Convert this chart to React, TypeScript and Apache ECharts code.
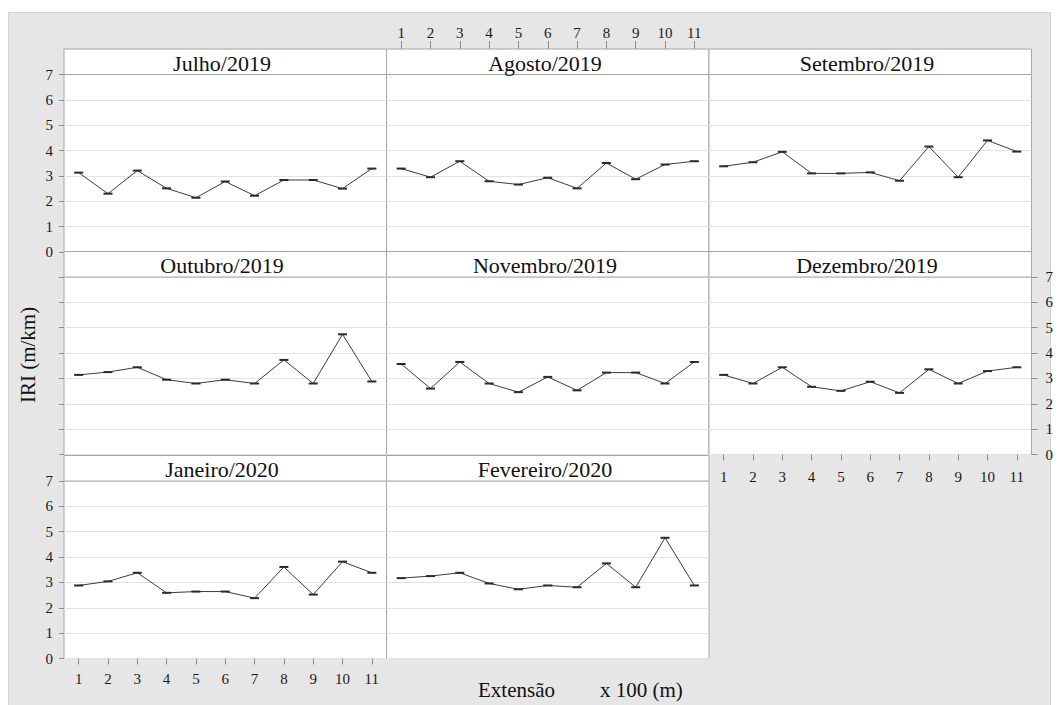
import React, { useEffect, useRef } from "react";
import * as echarts from "echarts";

const categories = ["1", "2", "3", "4", "5", "6", "7", "8", "9", "10", "11"];
const months = [
  "Julho/2019",
  "Agosto/2019",
  "Setembro/2019",
  "Outubro/2019",
  "Novembro/2019",
  "Dezembro/2019",
  "Janeiro/2020",
  "Fevereiro/2020",
];
const julho = [3.13, 2.3, 3.21, 2.51, 2.14, 2.78, 2.22, 2.84, 2.84, 2.5, 3.29];
const agosto = [3.29, 2.95, 3.58, 2.79, 2.66, 2.93, 2.51, 3.51, 2.87, 3.45, 3.58];
const setembro = [3.38, 3.54, 3.95, 3.1, 3.1, 3.14, 2.81, 4.16, 2.95, 4.4, 3.96];
const outubro = [3.14, 3.25, 3.44, 2.95, 2.8, 2.95, 2.8, 3.73, 2.8, 4.74, 2.88];
const novembro = [3.57, 2.6, 3.65, 2.8, 2.46, 3.06, 2.53, 3.23, 3.23, 2.8, 3.65];
const dezembro = [3.14, 2.8, 3.44, 2.67, 2.51, 2.87, 2.43, 3.36, 2.8, 3.29, 3.44];
const janeiro = [2.88, 3.04, 3.38, 2.59, 2.64, 2.64, 2.38, 3.61, 2.52, 3.82, 3.38];
const fevereiro = [3.17, 3.25, 3.38, 2.96, 2.73, 2.88, 2.81, 3.75, 2.81, 4.76, 2.88];
const seriesData = [julho, agosto, setembro, outubro, novembro, dezembro, janeiro, fevereiro];
const yAxisTitle = "IRI (m/km)";
const xAxisTitleA = "Extensão";
const xAxisTitleB = "x 100 (m)";

const FONT = "Liberation Serif";
const colLeft = [64, 386.5, 709];
const colW = 322.5;
const plotTop = [74.5, 277, 481];
const plotH = 177.5;
const stripTop = [49, 251.5, 455.5];
const stripH = 25.5;
const BORDER = "#a6a6a6";

export default function App() {
  const ref = useRef<HTMLDivElement>(null);
  useEffect(() => {
    if (!ref.current) return;
    const chart = echarts.init(ref.current, null, { renderer: "svg" });
    const grids: any[] = [];
    const xAxes: any[] = [];
    const yAxes: any[] = [];
    const series: any[] = [];
    const graphics: any[] = [
      {
        type: "rect",
        z: -10,
        shape: { x: 8.5, y: 12.5, width: 1042, height: 700 },
        style: { fill: "#e6e6e6", stroke: "#d4d4d4", lineWidth: 1 },
      },
    ];
    const labelStyle = { fontFamily: FONT, fontSize: 15, color: "#1a1a1a" };
    seriesData.forEach((d, i) => {
      const col = i % 3;
      const row = Math.floor(i / 3);
      grids.push({
        left: colLeft[col],
        top: plotTop[row],
        width: colW,
        height: plotH,
        show: true,
        backgroundColor: "#ffffff",
        borderColor: BORDER,
        borderWidth: 1,
      });
      const showX = i === 5 || i === 6;
      xAxes.push({
        type: "category",
        gridIndex: i,
        data: categories,
        boundaryGap: true,
        position: "bottom",
        axisLine: { show: false, onZero: false },
        axisTick: {
          show: showX,
          alignWithLabel: true,
          length: 6,
          lineStyle: { color: "#8c8c8c" },
        },
        axisLabel: { show: showX, interval: 0, margin: i === 5 ? 15 : 13, ...labelStyle },
        splitLine: { show: false },
      });
      const showYLabel = i === 0 || i === 6 || i === 5;
      yAxes.push({
        type: "value",
        gridIndex: i,
        min: 0,
        max: 7,
        interval: 1,
        position: i === 5 ? "right" : "left",
        axisLine: { show: false, onZero: false },
        axisTick: {
          show: col === 0 || i === 5,
          length: i === 5 ? 6 : 5,
          lineStyle: { color: "#8c8c8c" },
        },
        axisLabel: {
          show: showYLabel,
          margin: i === 5 ? 14 : 11,
          padding: [6, 0, 0, 0],
          ...labelStyle,
        },
        splitLine: { show: true, lineStyle: { color: "#e3e3e3", width: 1 } },
      });
      series.push({
        type: "line",
        xAxisIndex: i,
        yAxisIndex: i,
        data: d,
        symbol: "rect",
        symbolSize: [9, 2],
        showSymbol: true,
        lineStyle: { color: "#3c3c3c", width: 1 },
        itemStyle: { color: "#2a2a2a" },
      });
      graphics.push({
        type: "rect",
        z: 5,
        shape: { x: colLeft[col], y: stripTop[row], width: colW, height: stripH },
        style: { fill: "#ffffff", stroke: BORDER, lineWidth: 1 },
      });
      graphics.push({
        type: "text",
        z: 6,
        x: Math.round(colLeft[col] + colW / 2 - 3),
        y: Math.round(stripTop[row] + stripH / 2 + 1),
        style: {
          text: months[i],
          fontFamily: FONT,
          fontSize: 22,
          fill: "#111111",
          align: "center",
          verticalAlign: "middle",
        },
      });
    });
    grids.push({
      left: colLeft[1],
      top: stripTop[0],
      width: colW,
      height: stripH,
      show: false,
    });
    xAxes.push({
      type: "category",
      gridIndex: 8,
      data: categories,
      boundaryGap: true,
      position: "top",
      axisLine: { show: false, onZero: false },
      axisTick: {
        show: true,
        alignWithLabel: true,
        length: 8,
        lineStyle: { color: "#8c8c8c" },
      },
      axisLabel: { show: true, interval: 0, margin: 9, ...labelStyle },
      splitLine: { show: false },
    });
    yAxes.push({ type: "value", gridIndex: 8, min: 0, max: 1, show: false });
    graphics.push({
      type: "text",
      z: 6,
      x: 28,
      y: 355,
      rotation: Math.PI / 2,
      style: {
        text: yAxisTitle,
        fontFamily: FONT,
        fontSize: 21,
        fill: "#111111",
        align: "center",
        verticalAlign: "middle",
      },
    });
    graphics.push({
      type: "text",
      z: 6,
      x: 478,
      y: 690,
      style: {
        text: xAxisTitleA,
        fontFamily: FONT,
        fontSize: 21,
        fill: "#111111",
        align: "left",
        verticalAlign: "middle",
      },
    });
    graphics.push({
      type: "text",
      z: 6,
      x: 600,
      y: 690,
      style: {
        text: xAxisTitleB,
        fontFamily: FONT,
        fontSize: 21,
        fill: "#111111",
        align: "left",
        verticalAlign: "middle",
      },
    });
    chart.setOption({
      animation: false,
      backgroundColor: "#ffffff",
      textStyle: { fontFamily: FONT },
      grid: grids,
      xAxis: xAxes,
      yAxis: yAxes,
      series,
      graphic: graphics,
    });
    return () => chart.dispose();
  }, []);
  return (
    <div
      ref={ref}
      style={{ position: "absolute", left: 0, top: 0, width: 1059, height: 705 }}
    />
  );
}
